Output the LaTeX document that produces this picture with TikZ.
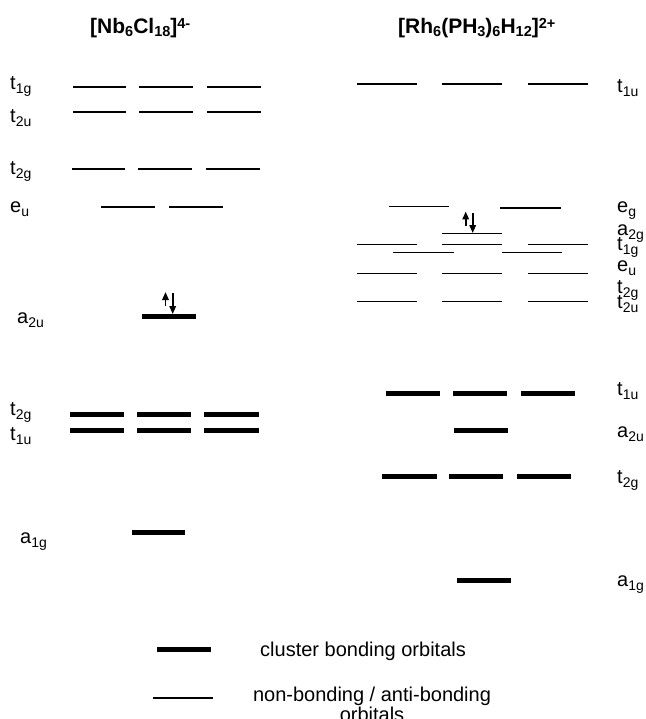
\documentclass[tikz,border=0pt]{standalone}
\usepackage{fontspec}
\setmainfont{Liberation Sans}
\usetikzlibrary{arrows.meta}
\newcommand\lsub[1]{\raisebox{-4pt}{\fontsize{14}{14}\selectfont #1}}
\newcommand\tsub[1]{\raisebox{-3pt}{\fontsize{14.5}{14.5}\selectfont\bfseries #1}}
\newcommand\tsup[1]{\raisebox{5pt}{\fontsize{14.5}{14.5}\selectfont\bfseries #1}}
\tikzset{
  lvthin/.style={line width=1.3pt},
  lvmed/.style={line width=1.8pt},
  lvbold/.style={line width=5pt},
  lab/.style={anchor=base west, inner sep=0pt, font=\fontsize{20}{24}\selectfont},
  ttl/.style={anchor=base west, inner sep=0pt, font=\fontsize{21}{24}\selectfont\bfseries},
  elec/.style={line width=1.8pt, -{Triangle[width=6.5pt,length=8pt]}}
}
\begin{document}
\begin{tikzpicture}[x=1pt,y=-1pt]
\useasboundingbox (0,0) rectangle (645,719);
% titles
\node[ttl] (tl) at (90,34) {[Nb\tsub{6}Cl\tsub{18}]\tsup{4-}};
\node[ttl] (tr) at (398,34) {[Rh\tsub{6}(PH\tsub{3})\tsub{6}H\tsub{12}]\tsup{2+}};

% ---------- left: [Nb6Cl18]4- ----------
\foreach \a/\b in {73/126,139/193,207/261} \draw[line width=2pt] (\a,87) -- (\b,87);
\foreach \a/\b in {73/126,139/193,207/261} \draw[lvmed] (\a,112) -- (\b,112);
\foreach \a/\b in {72/125,138/192,206/260} \draw[lvthin] (\a,169) -- (\b,169);
\foreach \a/\b in {101/155,169/223} \draw[lvthin] (\a,207) -- (\b,207);
\draw[line width=4.5pt] (142,316.5) -- (196,316.5);
\foreach \a/\b in {70/124,137/191,204/259} \draw[lvbold] (\a,414) -- (\b,414);
\foreach \a/\b in {70/124,137/191,204/259} \draw[lvbold] (\a,430) -- (\b,430);
\draw[lvbold] (132,532.5) -- (185,532.5);
% electrons
\coordinate (lu0) at (165.5,306); \coordinate (lu1) at (165.5,292);
\coordinate (ld0) at (172.7,293); \coordinate (ld1) at (172.7,314);
\draw[elec] (lu0) -- (lu1);
\draw[elec] (ld0) -- (ld1);
% labels
\node[lab] (l1) at (10,90) {t\lsub{1g}};
\node[lab] (l2) at (10,123) {t\lsub{2u}};
\node[lab] (l3) at (10,175) {t\lsub{2g}};
\node[lab] (l4) at (10,212) {e\lsub{u}};
\node[lab] (l5) at (17,323) {a\lsub{2u}};
\node[lab] (l6) at (10,415) {t\lsub{2g}};
\node[lab] (l7) at (10,440) {t\lsub{1u}};
\node[lab] (l8) at (20,543) {a\lsub{1g}};

% ---------- right: [Rh6(PH3)6H12]2+ ----------
\foreach \a/\b in {357/417,442/502,528/588} \draw[lvthin] (\a,84) -- (\b,84);
\draw[lvthin] (389,206.7) -- (449,206.7);
\draw[lvthin] (500,208) -- (561,208);
\draw[lvthin] (442,233.7) -- (502,233.7);
\foreach \a/\b in {357/417,442/502,528/588} \draw[lvthin] (\a,244.3) -- (\b,244.3);
\foreach \a/\b in {393/454,502/562} \draw[lvthin] (\a,252.7) -- (\b,252.7);
\foreach \a/\b in {357/417,442/502,528/588} \draw[lvthin] (\a,273.3) -- (\b,273.3);
\foreach \a/\b in {357/417,442/502,528/588} \draw[lvthin] (\a,301.7) -- (\b,301.7);
\foreach \a/\b in {386/440,453/507,521/575} \draw[lvbold] (\a,393.7) -- (\b,393.7);
\draw[lvbold] (454,430) -- (508,430);
\foreach \a/\b in {382/437,449/503,517/571} \draw[lvbold] (\a,476.3) -- (\b,476.3);
\draw[lvbold] (457,580) -- (511,580);
% electrons
\coordinate (ru0) at (465.7,225.5); \coordinate (ru1) at (465.7,211.5);
\coordinate (rd0) at (472.7,213); \coordinate (rd1) at (472.7,233);
\draw[elec] (ru0) -- (ru1);
\draw[elec] (rd0) -- (rd1);
% labels
\node[lab] (r1) at (617,93) {t\lsub{1u}};
\node[lab] (r2) at (617,212) {e\lsub{g}};
\node[lab] (r3) at (617,235) {a\lsub{2g}};
\node[lab] (r4) at (617,250.7) {t\lsub{1g}};
\node[lab] (r5) at (617,271.7) {e\lsub{u}};
\node[lab] (r6) at (617,293) {t\lsub{2g}};
\node[lab] (r7) at (617,308) {t\lsub{2u}};
\node[lab] (r8) at (617,395) {t\lsub{1u}};
\node[lab] (r9) at (617,437) {a\lsub{2u}};
\node[lab] (r10) at (617,483) {t\lsub{2g}};
\node[lab] (r11) at (617,586) {a\lsub{1g}};

% ---------- legend ----------
\coordinate (k1a) at (157,649.3); \coordinate (k1b) at (211,649.3);
\draw[lvbold] (k1a) -- (k1b);
\coordinate (k2a) at (153,698); \coordinate (k2b) at (213,698);
\draw[lvthin] (k2a) -- (k2b);
\node[lab] (kt1) at (260,656) {cluster bonding orbitals};
\node[anchor=base, inner sep=0pt, align=center, font=\fontsize{20}{18.5}\selectfont] (kt2) at (372,721.2) {non-bonding / anti-bonding\\orbitals};
\end{tikzpicture}
\end{document}
